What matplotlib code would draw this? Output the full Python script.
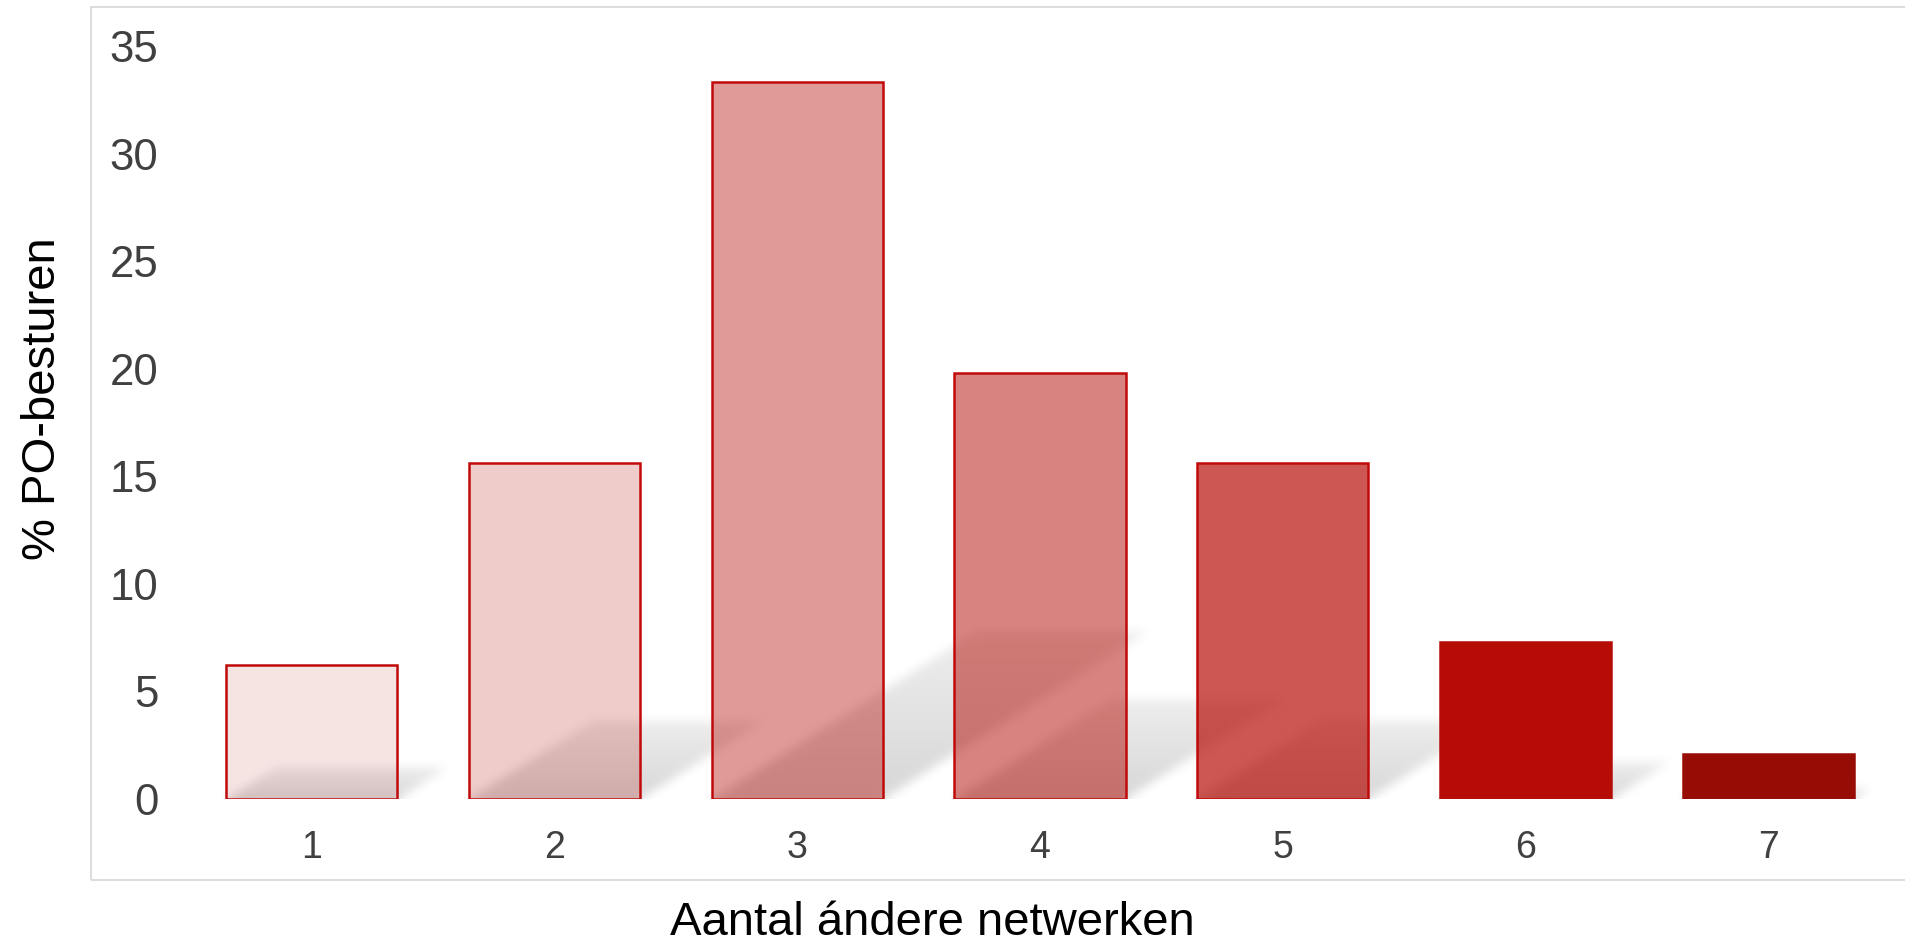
import numpy as np
import matplotlib.pyplot as plt
from matplotlib.patches import Rectangle

# data
aantal = [1, 2, 3, 4, 5, 6, 7]
procent = [6.25, 15.63, 33.33, 19.79, 15.63, 7.29, 2.08]
bar_alpha = [0.11, 0.21, 0.41, 0.51, 0.69, 1.0, 1.0]
y_ticks = [0, 5, 10, 15, 20, 25, 30, 35]

plt.rcParams['font.family'] = ['Liberation Sans', 'DejaVu Sans']

fig = plt.figure(figsize=(19.05, 9.42), dpi=100)
ax = fig.add_axes([0.1, 0.1518, 0.8919, 0.7994])
for s in ax.spines.values():
    s.set_visible(False)

# soft cast shadow behind the bars
w = 0.705
k = 0.14          # shear (x units per y unit)
xs = np.linspace(0.5, 7.5, 1700)
ys = np.linspace(0, 10, 215)
X, Y = np.meshgrid(xs, ys)
shade = np.zeros_like(X)
for x, v in zip(aantal, procent):
    hs = 0.233 * v
    inside = (Y <= hs) & (X >= x - w / 2 + k * Y) & (X <= x + w / 2 + k * Y)
    s = np.where(inside, 0.16 * (1 - 0.55 * Y / hs), 0)
    shade = np.maximum(shade, s)

sigma = 5
r = np.arange(-3 * sigma, 3 * sigma + 1)
kern = np.exp(-r ** 2 / (2 * sigma ** 2))
kern /= kern.sum()
pad = len(r) // 2
shade = np.pad(shade, pad, mode='edge')
shade = np.apply_along_axis(lambda m: np.convolve(m, kern, mode='same'), 1, shade)
shade = np.apply_along_axis(lambda m: np.convolve(m, kern, mode='same'), 0, shade)
shade = shade[pad:-pad, pad:-pad]

rgba = np.zeros(shade.shape + (4,))
rgba[..., 3] = shade
ax.imshow(rgba, extent=(0.5, 7.5, 0, 10), origin='lower', aspect='auto',
          zorder=1, interpolation='bilinear')

# bars
base = (181 / 255, 12 / 255, 6 / 255)
faces = [base + (a,) for a in bar_alpha]
faces[-1] = (152 / 255, 12 / 255, 6 / 255, 1.0)
edges = ['#c00a0a'] * 5 + [faces[5], faces[6]]
ax.bar(aantal, procent, width=w, color=faces, edgecolor=edges, linewidth=1.8, zorder=2)

ax.set_xlim(0.5, 7.5)
ax.set_ylim(0, 35)
ax.set_xticks(aantal)
ax.set_yticks(y_ticks)
ax.tick_params(axis='x', length=0, pad=22, labelsize=27, labelcolor='#404040')
ax.tick_params(axis='y', length=0, pad=23, labelsize=31.5, labelcolor='#404040')

# outer frame
fig.add_artist(Rectangle((91 / 1905, 62 / 942), 1.0, 873 / 942, transform=fig.transFigure,
                         fill=False, ec='#dddddd', lw=1.5))

fig.text(932 / 1905, 1 - 935 / 942, 'Aantal ándere netwerken', ha='center', va='baseline',
         fontsize=34, color='black')
fig.text(43 / 1905, 1 - 399 / 942, '% PO-besturen', rotation=90, ha='center', va='center',
         fontsize=34, color='black')

fig.savefig('out.png', dpi=100)
